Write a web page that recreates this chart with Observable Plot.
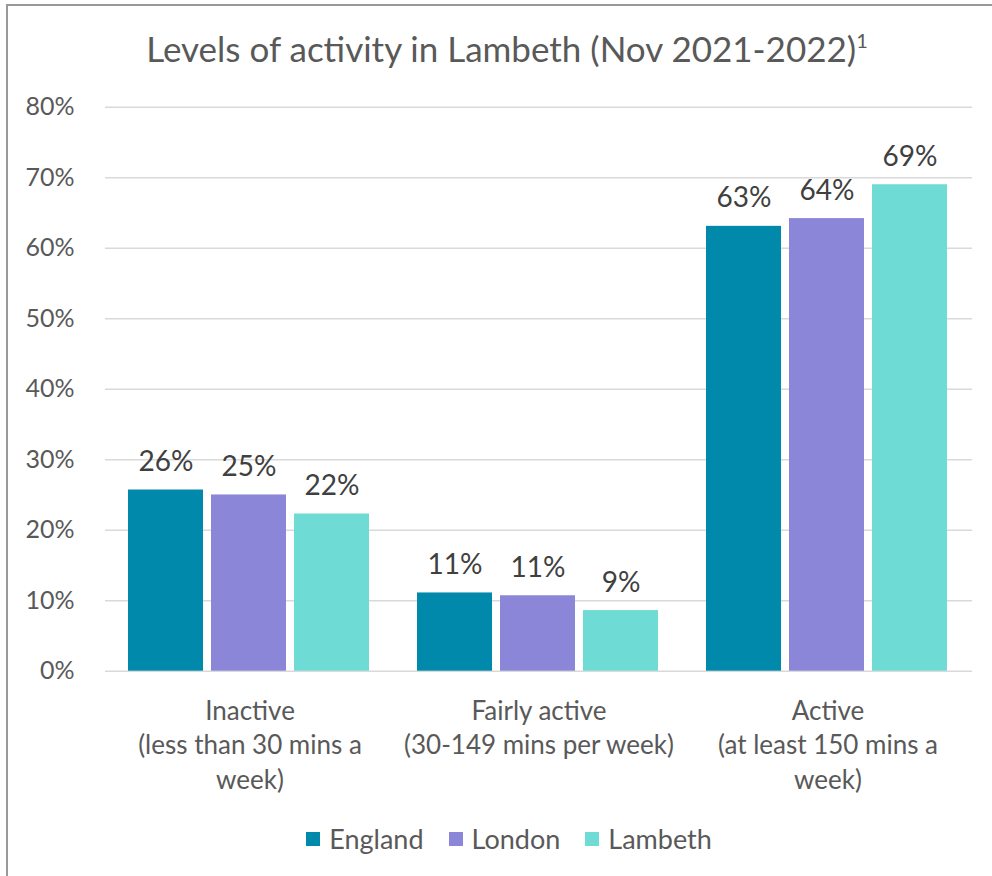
<!DOCTYPE html>
<html>
<head>
<meta charset="utf-8">
<script src="https://cdn.jsdelivr.net/npm/d3@7"></script>
<script src="https://cdn.jsdelivr.net/npm/@observablehq/plot@0.6"></script>
<style>
  html, body { margin: 0; padding: 0; background: #fff; overflow: hidden; width: 992px; height: 876px; }
  body { position: relative; font-family: Lato, sans-serif; }
  #frame { position: absolute; left: 6px; top: 4px; width: 1200px; height: 1200px;
           border-left: 2px solid #999; border-top: 2px solid #999; box-sizing: border-box; }
  #title { position: absolute; left: 0; width: 1014px; top: 27px; text-align: center;
           font-size: 35px; color: #595959; white-space: nowrap; }
  #title sup { font-size: 20px; vertical-align: 14px; line-height: 0; }
  #chart { position: absolute; left: 0; top: 80px; }
  #legend { position: absolute; left: 0; width: 1018px; top: 822px; display: flex; justify-content: center; }
  .lg-swatches { font-family: Lato, sans-serif !important; font-size: 27px !important; color: #595959; }
  .lg-swatch { margin-right: 25px !important; }
  .lg-swatch:last-child { margin-right: 0 !important; }
  .lg-swatch svg { margin-right: 9px !important; }
</style>
</head>
<body>
<div id="frame"></div>
<div id="title">Levels of activity in Lambeth (Nov 2021-2022)<sup>1</sup></div>
<div id="chart"></div>
<div id="legend"></div>
<script>
// Activity-level categories (axis labels, broken over lines)
const categories = [
  "Inactive\n(less than 30 mins a\nweek)",
  "Fairly active\n(30-149 mins per week)",
  "Active\n(at least 150 mins a\nweek)"
];
// Areas compared
const series = ["England", "London", "Lambeth"];
// Share of adults in each category (%)
const england = [25.7, 11.1, 63.1];
const london  = [25.0, 10.7, 64.2];
const lambeth = [22.3, 8.6, 69.0];
const colors = ["#0089ab", "#8b86d7", "#6fdbd5"];
const yTicks = [0, 10, 20, 30, 40, 50, 60, 70, 80];

const rows = [england, london, lambeth].flatMap((vals, s) =>
  vals.map((v, c) => ({category: categories[c], series: series[s], value: v}))
);

const plot = Plot.plot({
  width: 992,
  height: 720,
  marginLeft: 105,
  marginRight: 20,
  marginTop: 26.7,
  marginBottom: 129.3,
  style: {fontFamily: "Lato, sans-serif", color: "#595959", background: "transparent", overflow: "visible"},
  fx: {domain: categories, padding: 0, label: null, axis: null},
  x: {domain: series, paddingInner: 0.096, paddingOuter: 0.28, align: 0.47, axis: null},
  y: {domain: [0, 80], label: null},
  color: {domain: series, range: colors},
  marks: [
    Plot.gridY(yTicks, {stroke: "#d9d9d9", strokeOpacity: 1, strokeWidth: 1.5}),
    Plot.axisY(yTicks, {tickSize: 0, tickPadding: 31, fontSize: 25, tickFormat: d => d + "%", fill: "#595959", label: null}),
    Plot.axisFx({anchor: "bottom", tickSize: 0, tickPadding: 24, fontSize: 26, lineHeight: 1.33, label: null, fill: "#595959"}),
    Plot.barY(rows, {fx: "category", x: "series", y: "value", fill: "series"}),
    Plot.text(rows, {
      fx: "category", x: "series", y: "value",
      text: d => Math.round(d.value) + "%",
      lineAnchor: "bottom", dy: -19, fontSize: 28, fill: "#404040"
    })
  ]
});
document.getElementById("chart").appendChild(plot);

const legend = plot.legend("color", {swatchSize: 14, className: "lg"});
document.getElementById("legend").appendChild(legend);
</script>
</body>
</html>
